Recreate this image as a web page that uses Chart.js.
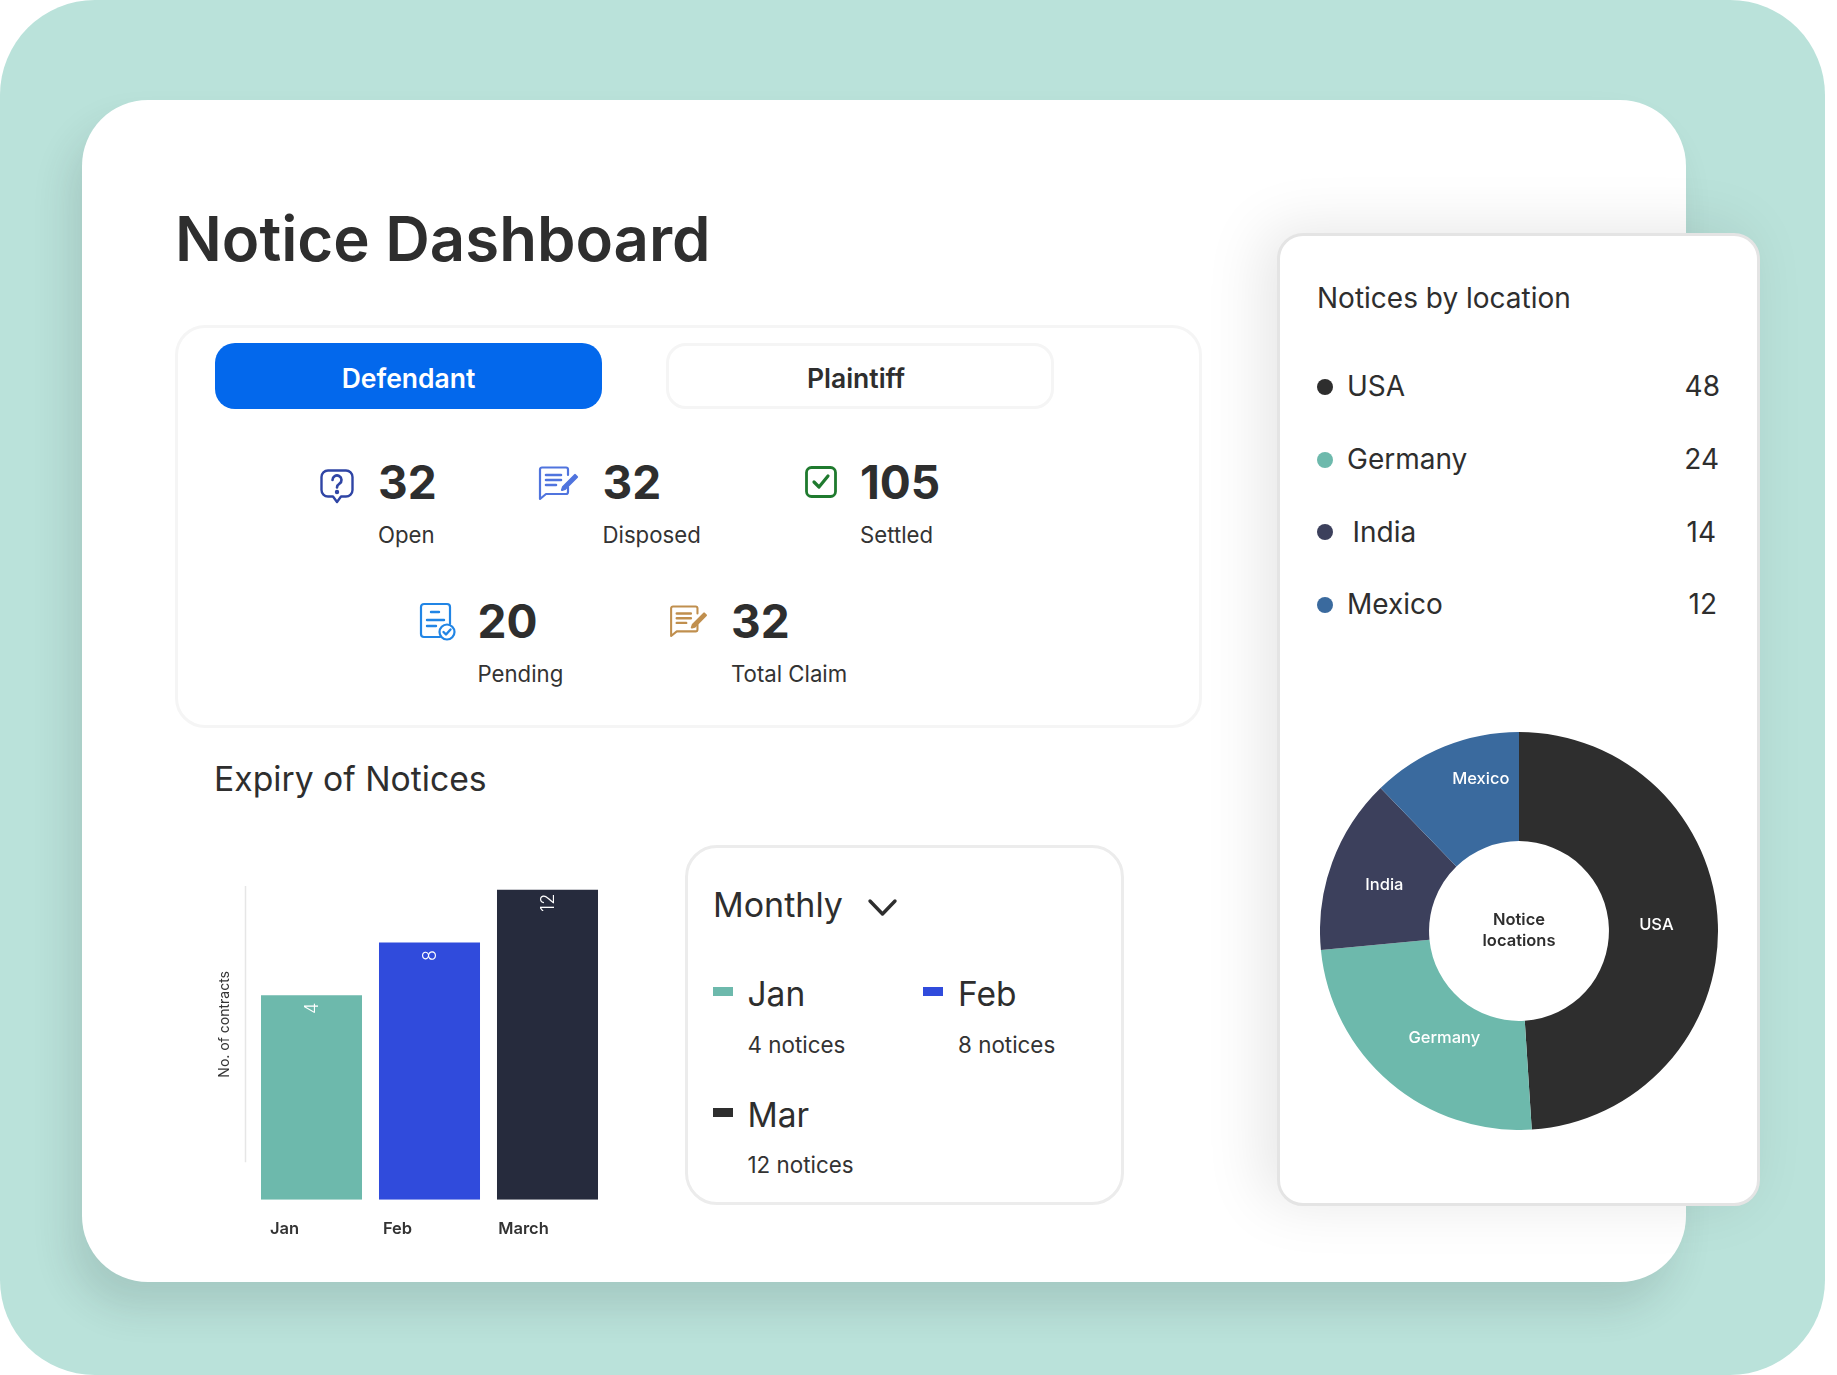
<!DOCTYPE html>
<html><head><meta charset="utf-8">
<script src="https://cdn.jsdelivr.net/npm/chart.js@4"></script>
<style>
html,body{margin:0;padding:0;background:#fff;width:1837px;height:1375px;overflow:hidden;font-family:Inter,sans-serif;color:#2e2e2e}
#bg{position:absolute;left:0;top:0;width:1825px;height:1375px;background:#bae2da;border-radius:95px}
#card{position:absolute;left:82px;top:100px;width:1604px;height:1182px;background:#fff;border-radius:66px;box-shadow:-12px 26px 38px rgba(40,60,60,.14)}
.t{position:absolute;white-space:nowrap;line-height:1;transform:translateY(-50%)}
.box{position:absolute;box-sizing:border-box;background:#fff}
#stats{left:175px;top:325px;width:1027px;height:403px;border:3px solid #f5f5f5;border-radius:30px}
#btnD{left:215px;top:342.5px;width:387px;height:66.5px;background:#0368ec;border-radius:20px}
#btnP{left:666px;top:342.5px;width:388px;height:66.5px;border:3px solid #f5f5f5;border-radius:20px}
.btn{font-weight:600;font-size:26.5px;transform:translate(-50%,-50%)}
.num{font-weight:700;font-size:46px}
.lab{font-size:22.2px;font-weight:400;color:#333}
#monthly{left:685px;top:845px;width:439px;height:360px;border:3px solid #ececec;border-radius:32px}
#panel{left:1277px;top:233px;width:483px;height:973px;border:3px solid #e4e4e4;border-radius:26px;box-shadow:-14px -4px 60px rgba(0,0,0,.10)}
.leg{font-size:33.5px}.sub{font-size:22.4px;color:#333}
.mk{position:absolute;width:20px;height:9px}
.dot{position:absolute;width:16px;height:16px;border-radius:50%;transform:translateY(-50%)}
.loc{font-size:28px}
svg{position:absolute;overflow:visible}
canvas{position:absolute;display:block}
</style></head><body>
<div id="bg"></div><div id="card"></div>
<div class="t" style="left:175px;top:239px;font-size:61.7px;font-weight:600">Notice Dashboard</div>
<div class="box" id="stats"></div><div class="box" id="btnD"></div><div class="box" id="btnP"></div>
<div class="t btn" style="left:408.5px;top:377.5px;color:#fff">Defendant</div>
<div class="t btn" style="left:856px;top:377.5px;color:#2e2e2e">Plaintiff</div>
<div id="statLayer"></div>

<svg style="left:320px;top:469px" width="34" height="34" viewBox="0 0 34 34" fill="none" stroke="#2f45a5" stroke-width="2.4" stroke-linejoin="round" stroke-linecap="round"><path d="M8 1.5h18a6.5 6.5 0 0 1 6.5 6.5v13a6.5 6.5 0 0 1-6.5 6.5h-5L17 33l-4-5.500H8A6.500 6.500 0 0 1 1.500 21V8A6.500 6.500 0 0 1 8 1.500z"/><path d="M12.500 11a4.500 4.500 0 1 1 7 3.700c-1.500 1-2.500 1.800-2.500 3.800" stroke-width="2.600"/><circle cx="17" cy="23" r="1" fill="#2f45a5"/></svg>
<svg style="left:539px;top:466px" width="40" height="34" viewBox="0 0 40 34" fill="none" stroke="#5074de" stroke-width="2.200" stroke-linecap="round" stroke-linejoin="round"><path d="M29 9V3.500A2 2 0 0 0 27 1.500H3A2 2 0 0 0 1 3.500V33l6-5h20a2 2 0 0 0 2-2v-5"/><path d="M7 9h15M7 14h15M7 19h10" stroke-width="2.600"/><path d="M24 21l-1 3 3-1L38 11l-2-2z" fill="#5074de"/></svg>
<svg style="left:805px;top:466px" width="32" height="32" viewBox="0 0 32 32" fill="none" stroke="#1f7a2e" stroke-linecap="round" stroke-linejoin="round"><rect x="1.500" y="1.500" width="29" height="29" rx="5" stroke-width="2.800"/><path d="M9 16l5 5 9-11" stroke-width="3.200"/></svg>
<svg style="left:420px;top:603px" width="36" height="38" viewBox="0 0 36 38" fill="none" stroke="#2185e5" stroke-width="2.200" stroke-linecap="round" stroke-linejoin="round"><path d="M20 34H4a3 3 0 0 1-3-3V4a3 3 0 0 1 3-3h23a3 3 0 0 1 3 3v17"/><path d="M11 9h8M7 17h17M7 23h9" stroke-width="2.400"/><circle cx="27" cy="29" r="7.500" fill="#fff"/><path d="M23.500 29l2.500 2.500 4.500-5" stroke-width="2.400"/></svg>
<svg style="left:670px;top:605px" width="38" height="32" viewBox="0 0 40 34" fill="none" stroke="#c08f4e" stroke-width="2.200" stroke-linecap="round" stroke-linejoin="round"><path d="M29 9V3.500A2 2 0 0 0 27 1.500H3A2 2 0 0 0 1 3.500V33l6-5h20a2 2 0 0 0 2-2v-5"/><path d="M7 9h15M7 14h15M7 19h10" stroke-width="2.600"/><path d="M24 21l-1 3 3-1L38 11l-2-2z" fill="#c08f4e"/></svg>

<div class="t" style="left:214px;top:779px;font-size:33.7px">Expiry of Notices</div>
<canvas id="barChart" width="420" height="430" style="left:206px;top:840px;width:420px;height:430px"></canvas>

<div class="box" id="monthly"></div>
<div class="t" style="left:713px;top:905px;font-size:34px">Monthly</div>
<svg style="left:868px;top:899px" width="30" height="17" viewBox="0 0 30 17" fill="none" stroke="#2e2e2e" stroke-width="3.400" stroke-linecap="round" stroke-linejoin="round"><path d="M2 2l12.500 13L27 2"/></svg>
<div id="legendLayer"></div>

<div class="box" id="panel"></div>
<div class="t" style="left:1317px;top:298px;font-size:28px">Notices by location</div>
<div id="locLayer"></div>
<canvas id="pieChart" width="398" height="398" style="left:1320px;top:732px;width:398px;height:398px"></canvas>

<script>
// ---- data ----
const categories = ['Jan', 'Feb', 'March'];
const barValues = [4, 8, 12];
const barColors = ['#6db9ac', '#304bdc', '#262b3d'];
const yAxisTitle = 'No. of contracts';

const legendNames = ['Jan', 'Feb', 'Mar'];
const legendCounts = [4, 8, 12];
const legendColors = ['#6db9ac', '#304bdc', '#2e2e2e'];

const locations = ['USA', 'Germany', 'India', 'Mexico'];
const locationValues = [48, 24, 14, 12];
const sliceColors = ['#2e2e2e', '#6db9ac', '#3c405c', '#3a6a9e'];
const centerLines = ['Notice', 'locations'];

const statNames = ['Open', 'Disposed', 'Settled', 'Pending', 'Total Claim'];
const statValues = [32, 32, 105, 20, 32];

// ---- page text built from the arrays ----
const statPos = [[378, 482, 535], [602.500, 482, 535], [860, 482, 535], [477.500, 621, 674], [731, 621, 674]];
document.getElementById('statLayer').innerHTML = statNames.map((n, i) => {
  const p = statPos[i];
  return `<div class="t num" style="left:${p[0]}px;top:${p[1]}px">${statValues[i]}</div>` +
         `<div class="t lab" style="left:${p[0]}px;top:${p[2]}px">${n}</div>`;
}).join('');

const legPos = [[713, 991, 747.500, 995, 1045], [923, 991, 958, 995, 1045], [713, 1112, 747.500, 1116, 1165]];
document.getElementById('legendLayer').innerHTML = legendNames.map((n, i) => {
  const p = legPos[i];
  return `<div class="mk" style="left:${p[0]}px;top:${p[1] - 4.500}px;background:${legendColors[i]}"></div>` +
         `<div class="t leg" style="left:${p[2]}px;top:${p[3]}px">${n}</div>` +
         `<div class="t sub" style="left:${p[2]}px;top:${p[4]}px">${legendCounts[i]} notices</div>`;
}).join('');

const rowY = [386.5, 459.5, 532, 604.5], nameX = [1347, 1347, 1352.500, 1347], valRight = [1720, 1719, 1716, 1717];
document.getElementById('locLayer').innerHTML = locations.map((n, i) =>
  `<div class="dot" style="left:1317px;top:${rowY[i]}px;background:${sliceColors[i]}"></div>` +
  `<div class="t loc" style="left:${nameX[i]}px;top:${rowY[i] - 0.500}px">${n}</div>` +
  `<div class="t loc" style="right:${1837 - valRight[i]}px;top:${rowY[i] - 0.500}px">${locationValues[i]}</div>`
).join('');

// ---- bar chart ----
// The reference's bars sit on a truncated baseline: their heights fit a straight line that
// reaches zero height at about -11.5 on the value scale.
const axisMin = -11.5, axisMax = 15.1, axisLineSpan = [12.3, -8.66], xLabelNudge = [0, -5, 3];
const barExtras = {
  id: 'barExtras',
  beforeDraw(c) {
    const items = c.scales.x.getLabelItems ? c.scales.x.getLabelItems() : [];
    if (!c.$nudged) { items.forEach((it, i) => { it.options.translation[0] += xLabelNudge[i]; }); c.$nudged = true; }
    const g = c.ctx, y = c.scales.y, x0 = c.chartArea.left - 7;
    g.save(); g.strokeStyle = '#e6e6e6'; g.lineWidth = 1.500; g.beginPath();
    g.moveTo(x0, y.getPixelForValue(axisLineSpan[0])); g.lineTo(x0, y.getPixelForValue(axisLineSpan[1])); g.stroke(); g.restore();
  },
  afterDatasetsDraw(c) {
    const g = c.ctx;
    c.getDatasetMeta(0).data.forEach((el, i) => {
      g.save(); g.translate(el.x + 1, el.y + 13); g.rotate(-Math.PI / 2);
      g.fillStyle = '#fff'; g.font = '300 18px Inter'; g.textAlign = 'center'; g.textBaseline = 'middle';
      g.fillText(String(barValues[i]), 0, 0); g.restore();
    });
  }
};
new Chart(document.getElementById('barChart'), {
  type: 'bar',
  data: { labels: categories, datasets: [{ data: barValues, backgroundColor: barColors, base: axisMin, barPercentage: 0.856, categoryPercentage: 1 }] },
  options: {
    responsive: false, animation: false, devicePixelRatio: 1,
    layout: { padding: { top: 9, bottom: 12.500, right: 19.500, left: 0 } },
    plugins: { legend: { display: false }, tooltip: { enabled: false } },
    scales: {
      x: { grid: { display: false, drawTicks: false }, border: { display: false },
           ticks: { labelOffset: -27, padding: 19, color: '#333', maxRotation: 0, font: { family: 'Inter', size: 16.5, weight: 600 } } },
      y: { min: axisMin, max: axisMax, grid: { display: false, drawTicks: false }, border: { display: false }, ticks: { display: false },
           title: { display: true, text: yAxisTitle, color: '#333', font: { family: 'Inter', size: 14, weight: 400 }, padding: { top: 10.600, bottom: 20 } },
           afterFit(s) { s.width = 46.500; } }
    }
  },
  plugins: [barExtras]
});

// ---- doughnut ----
const sliceLabelNudge = [[-7, -1], [19, -3], [1, 4], [16, -18]];
const pieExtras = {
  id: 'pieExtras',
  afterDatasetsDraw(c) {
    const g = c.ctx; g.save(); g.textAlign = 'center'; g.textBaseline = 'middle';
    g.font = '500 16.500px Inter'; g.fillStyle = '#fff';
    const els = c.getDatasetMeta(0).data;
    els.forEach((el, i) => {
      const p = el.getCenterPoint();
      g.fillText(locations[i], p.x + sliceLabelNudge[i][0], p.y + sliceLabelNudge[i][1]);
    });
    g.fillStyle = '#2e2e2e'; g.font = '600 16.500px Inter';
    const cx = els[0].x, cy = els[0].y;
    g.fillText(centerLines[0], cx, cy - 11); g.fillText(centerLines[1], cx, cy + 10);
    g.restore();
  }
};
new Chart(document.getElementById('pieChart'), {
  type: 'doughnut',
  data: { labels: locations, datasets: [{ data: locationValues, backgroundColor: sliceColors, borderWidth: 0, hoverOffset: 0 }] },
  options: { responsive: false, animation: false, devicePixelRatio: 1, cutout: '45.200%',
             plugins: { legend: { display: false }, tooltip: { enabled: false } } },
  plugins: [pieExtras]
});
</script>
</body></html>
